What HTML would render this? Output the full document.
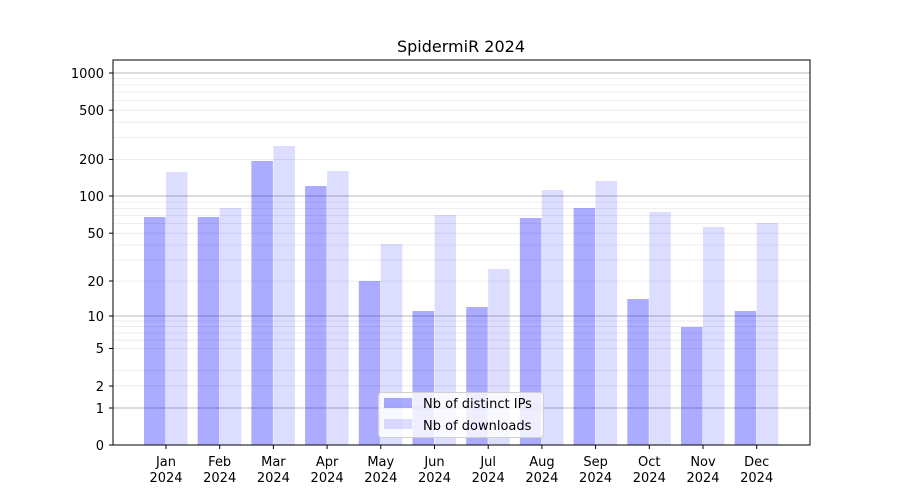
<!DOCTYPE html>
<html><head><meta charset="utf-8"><style>body{margin:0;background:#fff}svg{display:block}text{font-family:"DejaVu Sans","Liberation Sans",sans-serif;font-size:13px;fill:#000}</style></head><body>
<svg width="900" height="500" xmlns="http://www.w3.org/2000/svg">
<rect width="900" height="500" fill="#fff"/>
<g stroke="#e8e8e8" stroke-width="0.8">
<line x1="113" x2="810" y1="385.8" y2="385.8"/><line x1="113" x2="810" y1="370.4" y2="370.4"/><line x1="113" x2="810" y1="348.5" y2="348.5"/><line x1="113" x2="810" y1="340.2" y2="340.2"/><line x1="113" x2="810" y1="333" y2="333"/><line x1="113" x2="810" y1="326.7" y2="326.7"/><line x1="113" x2="810" y1="321" y2="321"/>
<line x1="113" x2="810" y1="281.1" y2="281.1"/><line x1="113" x2="810" y1="260.1" y2="260.1"/><line x1="113" x2="810" y1="245" y2="245"/><line x1="113" x2="810" y1="233.2" y2="233.2"/><line x1="113" x2="810" y1="223.6" y2="223.6"/><line x1="113" x2="810" y1="215.4" y2="215.4"/><line x1="113" x2="810" y1="208.4" y2="208.4"/><line x1="113" x2="810" y1="202.1" y2="202.1"/>
<line x1="113" x2="810" y1="159.4" y2="159.4"/><line x1="113" x2="810" y1="137.5" y2="137.5"/><line x1="113" x2="810" y1="122.2" y2="122.2"/><line x1="113" x2="810" y1="110.2" y2="110.2"/><line x1="113" x2="810" y1="100.4" y2="100.4"/><line x1="113" x2="810" y1="92.1" y2="92.1"/><line x1="113" x2="810" y1="84.9" y2="84.9"/><line x1="113" x2="810" y1="78.6" y2="78.6"/>
</g>
<g stroke="#b8b8b8" stroke-width="1">
<line x1="113" x2="810" y1="408" y2="408"/><line x1="113" x2="810" y1="316" y2="316"/><line x1="113" x2="810" y1="196" y2="196"/><line x1="113" x2="810" y1="73" y2="73"/>
</g>
<g fill="#0000ff" fill-opacity="0.33">
<rect x="144" y="217" width="21.5" height="228"/>
<rect x="197.7" y="217" width="21.5" height="228"/>
<rect x="251.4" y="161" width="21.5" height="284"/>
<rect x="305.1" y="186" width="21.5" height="259"/>
<rect x="358.8" y="281" width="21.5" height="164"/>
<rect x="412.5" y="311" width="21.5" height="134"/>
<rect x="466.2" y="307" width="21.5" height="138"/>
<rect x="519.9" y="218" width="21.5" height="227"/>
<rect x="573.6" y="208" width="21.5" height="237"/>
<rect x="627.3" y="299" width="21.5" height="146"/>
<rect x="681" y="327" width="21.5" height="118"/>
<rect x="734.7" y="311" width="21.5" height="134"/>
</g>
<g fill="#0000ff" fill-opacity="0.135">
<rect x="166" y="172" width="21.5" height="273"/>
<rect x="219.7" y="208" width="21.5" height="237"/>
<rect x="273.4" y="146" width="21.5" height="299"/>
<rect x="327.1" y="171" width="21.5" height="274"/>
<rect x="380.8" y="244" width="21.5" height="201"/>
<rect x="434.5" y="215" width="21.5" height="230"/>
<rect x="488.2" y="269" width="21.5" height="176"/>
<rect x="541.9" y="190" width="21.5" height="255"/>
<rect x="595.6" y="181" width="21.5" height="264"/>
<rect x="649.3" y="212" width="21.5" height="233"/>
<rect x="703" y="227" width="21.5" height="218"/>
<rect x="756.7" y="223" width="21.5" height="222"/>
</g>
<rect x="113" y="60" width="697" height="385" fill="none" stroke="#000" stroke-width="1"/>
<g stroke="#000"><line x1="109" x2="113" y1="445" y2="445"/><line x1="109" x2="113" y1="408" y2="408"/><line x1="109" x2="113" y1="386" y2="386"/><line x1="109" x2="113" y1="348.5" y2="348.5"/><line x1="109" x2="113" y1="316" y2="316"/><line x1="109" x2="113" y1="281" y2="281"/><line x1="109" x2="113" y1="233.2" y2="233.2"/><line x1="109" x2="113" y1="196" y2="196"/><line x1="109" x2="113" y1="159.4" y2="159.4"/><line x1="109" x2="113" y1="110.2" y2="110.2"/><line x1="109" x2="113" y1="73" y2="73"/></g>
<g text-anchor="end">
<text x="104" y="450">0</text><text x="104" y="413">1</text><text x="104" y="391">2</text><text x="104" y="353">5</text><text x="104" y="321">10</text><text x="104" y="286">20</text><text x="104" y="238">50</text><text x="104" y="201">100</text><text x="104" y="164">200</text><text x="104" y="115">500</text><text x="104" y="78">1000</text>
</g>
<g text-anchor="middle">
<text x="461" y="52" style="font-size:16px">SpidermiR 2024</text>
</g>
<g stroke="#000">
<line x1="166" x2="166" y1="445" y2="449"/><line x1="219.7" x2="219.7" y1="445" y2="449"/><line x1="273.4" x2="273.4" y1="445" y2="449"/><line x1="327.1" x2="327.1" y1="445" y2="449"/><line x1="380.8" x2="380.8" y1="445" y2="449"/><line x1="434.5" x2="434.5" y1="445" y2="449"/><line x1="488.2" x2="488.2" y1="445" y2="449"/><line x1="541.9" x2="541.9" y1="445" y2="449"/><line x1="595.6" x2="595.6" y1="445" y2="449"/><line x1="649.3" x2="649.3" y1="445" y2="449"/><line x1="703" x2="703" y1="445" y2="449"/><line x1="756.7" x2="756.7" y1="445" y2="449"/>
</g>
<g text-anchor="middle">
<text x="166" y="466">Jan</text><text x="166" y="482">2024</text>
<text x="219.7" y="466">Feb</text><text x="219.7" y="482">2024</text>
<text x="273.4" y="466">Mar</text><text x="273.4" y="482">2024</text>
<text x="327.1" y="466">Apr</text><text x="327.1" y="482">2024</text>
<text x="380.8" y="466">May</text><text x="380.8" y="482">2024</text>
<text x="434.5" y="466">Jun</text><text x="434.5" y="482">2024</text>
<text x="488.2" y="466">Jul</text><text x="488.2" y="482">2024</text>
<text x="541.9" y="466">Aug</text><text x="541.9" y="482">2024</text>
<text x="595.6" y="466">Sep</text><text x="595.6" y="482">2024</text>
<text x="649.3" y="466">Oct</text><text x="649.3" y="482">2024</text>
<text x="703" y="466">Nov</text><text x="703" y="482">2024</text>
<text x="756.7" y="466">Dec</text><text x="756.7" y="482">2024</text>
</g>
<rect x="378.5" y="392.5" width="165" height="45" rx="3" fill="#fff" fill-opacity="0.8" stroke="#d0d0d0"/>
<rect x="384" y="398" width="28" height="10" fill="#0000ff" fill-opacity="0.33"/>
<rect x="384" y="419" width="28" height="10" fill="#0000ff" fill-opacity="0.135"/>
<text x="423" y="408">Nb of distinct IPs</text>
<text x="423" y="430">Nb of downloads</text>
</svg>
</body></html>
